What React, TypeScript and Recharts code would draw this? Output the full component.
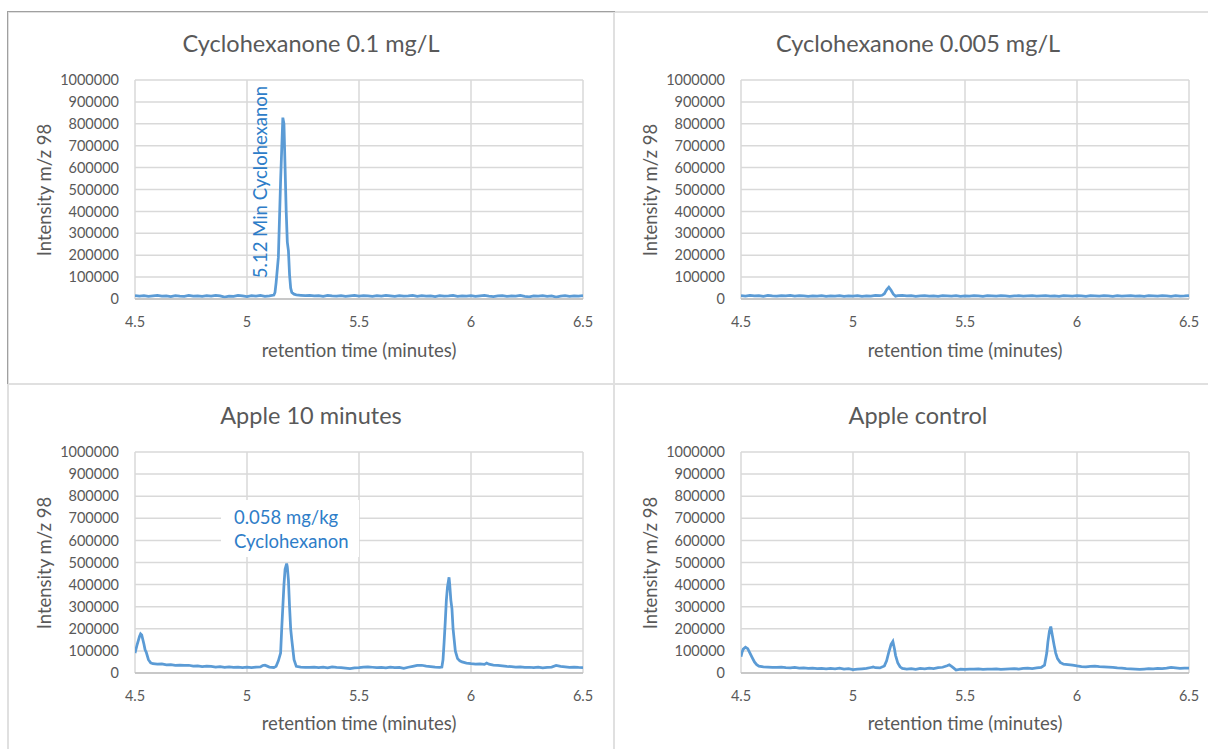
import { LineChart, Line, XAxis, YAxis, CartesianGrid } from 'recharts';

const FONT = 'Lato, "Open Sans", sans-serif';
const LINE = '#5B9BD5';
const TEXT = '#595959';
const NOTE = '#2E7DC8';
const GRID = '#d9d9d9';

const xTicks = [4.5, 5, 5.5, 6, 6.5];
const yTicks = [0, 100000, 200000, 300000, 400000, 500000, 600000, 700000, 800000, 900000, 1000000];

// Cyclohexanone 0.1 mg/L standard
const std100Time = [
  4.5, 4.52, 4.54, 4.56, 4.58, 4.6, 4.62, 4.64, 4.66, 4.68, 4.7, 4.72, 4.74, 4.76, 4.78, 4.8, 4.82, 4.84, 4.86, 4.88,
  4.9, 4.92, 4.94, 4.96, 4.98, 5.0, 5.02, 5.04, 5.06, 5.08, 5.1, 5.12, 5.125, 5.13, 5.14, 5.15, 5.16, 5.165, 5.17, 5.175,
  5.18, 5.185, 5.19, 5.195, 5.2, 5.21, 5.22, 5.24, 5.26, 5.28, 5.3, 5.32, 5.34, 5.36, 5.38, 5.4, 5.42, 5.44, 5.46, 5.48,
  5.5, 5.52, 5.54, 5.56, 5.58, 5.6, 5.62, 5.64, 5.66, 5.68, 5.7, 5.72, 5.74, 5.76, 5.78, 5.8, 5.82, 5.84, 5.86, 5.88,
  5.9, 5.92, 5.94, 5.96, 5.98, 6.0, 6.02, 6.04, 6.06, 6.08, 6.1, 6.12, 6.14, 6.16, 6.18, 6.2, 6.22, 6.24, 6.26, 6.28,
  6.3, 6.32, 6.34, 6.36, 6.38, 6.4, 6.42, 6.44, 6.46, 6.48, 6.5,
];
const std100Signal = [
  16000, 13000, 15000, 12000, 14000, 16000, 13000, 14000, 11000, 15000, 13000, 12000, 16000, 13000, 14000, 12000, 15000, 13000, 17000, 14000,
  9000, 13000, 12000, 16000, 14000, 11000, 15000, 13000, 16000, 12000, 14000, 18000, 30000, 75000, 190000, 540000, 828000, 800000, 600000, 400000,
  260000, 220000, 110000, 50000, 30000, 22000, 19000, 17000, 15000, 16000, 14000, 15000, 12000, 16000, 14000, 13000, 15000, 12000, 14000, 16000,
  13000, 15000, 14000, 12000, 15000, 13000, 16000, 14000, 12000, 15000, 13000, 14000, 16000, 12000, 15000, 13000, 14000, 11000, 15000, 13000,
  14000, 16000, 12000, 14000, 13000, 15000, 12000, 14000, 16000, 13000, 11000, 14000, 15000, 12000, 14000, 13000, 16000, 12000, 10000, 14000,
  13000, 15000, 12000, 14000, 9000, 13000, 15000, 12000, 14000, 13000, 15000,
];

// Cyclohexanone 0.005 mg/L standard
const std005Time = [
  4.5, 4.52, 4.54, 4.56, 4.58, 4.6, 4.62, 4.64, 4.66, 4.68, 4.7, 4.72, 4.74, 4.76, 4.78, 4.8, 4.82, 4.84, 4.86, 4.88,
  4.9, 4.92, 4.94, 4.96, 4.98, 5.0, 5.02, 5.04, 5.06, 5.08, 5.1, 5.12, 5.13, 5.14, 5.15, 5.16, 5.17, 5.18, 5.19, 5.2,
  5.22, 5.24, 5.26, 5.28, 5.3, 5.32, 5.34, 5.36, 5.38, 5.4, 5.42, 5.44, 5.46, 5.48, 5.5, 5.52, 5.54, 5.56, 5.58, 5.6,
  5.62, 5.64, 5.66, 5.68, 5.7, 5.72, 5.74, 5.76, 5.78, 5.8, 5.82, 5.84, 5.86, 5.88, 5.9, 5.92, 5.94, 5.96, 5.98, 6.0,
  6.02, 6.04, 6.06, 6.08, 6.1, 6.12, 6.14, 6.16, 6.18, 6.2, 6.22, 6.24, 6.26, 6.28, 6.3, 6.32, 6.34, 6.36, 6.38, 6.4,
  6.42, 6.44, 6.46, 6.48, 6.5,
];
const std005Signal = [
  15000, 13000, 16000, 14000, 15000, 12000, 16000, 14000, 13000, 15000, 14000, 16000, 13000, 15000, 14000, 12000, 14000, 13000, 15000, 12000,
  14000, 13000, 15000, 12000, 14000, 13000, 15000, 12000, 14000, 13000, 16000, 15000, 17000, 24000, 42000, 54000, 40000, 22000, 13000, 15000,
  16000, 14000, 15000, 12000, 14000, 15000, 13000, 14000, 12000, 15000, 14000, 13000, 15000, 12000, 14000, 13000, 15000, 14000, 12000, 15000,
  14000, 13000, 15000, 14000, 12000, 14000, 15000, 13000, 14000, 15000, 13000, 14000, 15000, 13000, 14000, 12000, 15000, 14000, 13000, 15000,
  14000, 12000, 15000, 14000, 13000, 15000, 14000, 12000, 15000, 13000, 14000, 15000, 13000, 14000, 12000, 15000, 14000, 13000, 15000, 14000,
  12000, 15000, 13000, 14000, 16000,
];

// Apple, 10 minutes
const apple10Time = [
  4.5, 4.51, 4.52, 4.525, 4.53, 4.54, 4.545, 4.55, 4.56, 4.57, 4.58, 4.6, 4.62, 4.64, 4.66, 4.68, 4.7, 4.72, 4.74, 4.76,
  4.78, 4.8, 4.82, 4.84, 4.86, 4.88, 4.9, 4.92, 4.94, 4.96, 4.98, 5.0, 5.02, 5.04, 5.06, 5.07, 5.08, 5.09, 5.1, 5.12,
  5.13, 5.14, 5.15, 5.155, 5.16, 5.165, 5.17, 5.177, 5.18, 5.185, 5.19, 5.195, 5.2, 5.21, 5.22, 5.24, 5.26, 5.28, 5.3, 5.32,
  5.34, 5.36, 5.38, 5.4, 5.42, 5.44, 5.46, 5.48, 5.5, 5.52, 5.54, 5.56, 5.58, 5.6, 5.62, 5.64, 5.66, 5.68, 5.7, 5.72,
  5.74, 5.76, 5.78, 5.8, 5.82, 5.84, 5.86, 5.87, 5.875, 5.88, 5.885, 5.89, 5.895, 5.902, 5.905, 5.91, 5.915, 5.92, 5.925, 5.93,
  5.94, 5.95, 5.96, 5.98, 6.0, 6.02, 6.04, 6.06, 6.07, 6.08, 6.1, 6.12, 6.14, 6.16, 6.18, 6.2, 6.22, 6.24, 6.26, 6.28,
  6.3, 6.32, 6.34, 6.36, 6.38, 6.4, 6.42, 6.44, 6.46, 6.48, 6.5,
];
const apple10Signal = [
  90000, 130000, 165000, 177000, 172000, 130000, 105000, 95000, 60000, 46000, 42000, 40000, 41000, 37000, 38000, 35000, 36000, 34000, 35000, 31000,
  32000, 29000, 31000, 30000, 27000, 29000, 26000, 28000, 25000, 27000, 24000, 26000, 24000, 27000, 28000, 34000, 35000, 31000, 27000, 25000,
  30000, 55000, 90000, 200000, 300000, 400000, 470000, 495000, 480000, 420000, 300000, 200000, 150000, 60000, 30000, 27000, 26000, 25000, 27000, 24000,
  26000, 23000, 28000, 25000, 24000, 22000, 20000, 23000, 24000, 27000, 28000, 26000, 24000, 25000, 23000, 26000, 24000, 25000, 21000, 26000,
  30000, 34000, 35000, 31000, 29000, 27000, 26000, 27000, 60000, 140000, 230000, 330000, 390000, 433000, 400000, 330000, 290000, 200000, 150000, 100000,
  65000, 55000, 50000, 45000, 42000, 40000, 41000, 39000, 45000, 40000, 36000, 34000, 32000, 30000, 29000, 27000, 28000, 25000, 26000, 24000,
  26000, 23000, 25000, 27000, 34000, 30000, 28000, 26000, 27000, 25000, 24000,
];

// Apple control
const appleCtrlTime = [
  4.5, 4.505, 4.51, 4.52, 4.53, 4.54, 4.55, 4.56, 4.57, 4.58, 4.6, 4.62, 4.64, 4.66, 4.68, 4.7, 4.72, 4.74, 4.76, 4.78,
  4.8, 4.82, 4.84, 4.86, 4.88, 4.9, 4.92, 4.94, 4.96, 4.98, 5.0, 5.02, 5.04, 5.06, 5.08, 5.09, 5.1, 5.12, 5.14, 5.15,
  5.16, 5.17, 5.178, 5.185, 5.19, 5.2, 5.21, 5.22, 5.24, 5.26, 5.28, 5.3, 5.32, 5.34, 5.36, 5.38, 5.4, 5.42, 5.43, 5.44,
  5.45, 5.46, 5.48, 5.5, 5.52, 5.54, 5.56, 5.58, 5.6, 5.62, 5.64, 5.66, 5.68, 5.7, 5.72, 5.74, 5.76, 5.78, 5.8, 5.82,
  5.84, 5.855, 5.865, 5.87, 5.877, 5.883, 5.89, 5.898, 5.905, 5.913, 5.925, 5.94, 5.96, 5.98, 6.0, 6.02, 6.04, 6.06, 6.08, 6.1,
  6.12, 6.14, 6.16, 6.18, 6.2, 6.22, 6.24, 6.26, 6.28, 6.3, 6.32, 6.34, 6.36, 6.38, 6.4, 6.42, 6.44, 6.46, 6.48, 6.5,
];
const appleCtrlSignal = [
  74000, 95000, 108000, 117000, 110000, 90000, 70000, 50000, 38000, 31000, 28000, 27000, 26000, 25000, 27000, 24000, 23000, 25000, 22000, 23000,
  21000, 22000, 20000, 21000, 19000, 21000, 19000, 22000, 18000, 20000, 15000, 17000, 19000, 21000, 25000, 27000, 24000, 23000, 32000, 55000,
  95000, 130000, 143000, 110000, 80000, 45000, 28000, 21000, 18000, 20000, 17000, 21000, 19000, 22000, 20000, 24000, 26000, 33000, 37000, 30000,
  22000, 13000, 17000, 16000, 18000, 17000, 19000, 16000, 18000, 17000, 19000, 16000, 18000, 19000, 20000, 18000, 21000, 22000, 20000, 23000,
  25000, 35000, 90000, 140000, 190000, 210000, 170000, 125000, 90000, 65000, 48000, 40000, 38000, 36000, 32000, 29000, 28000, 30000, 31000, 29000,
  28000, 27000, 25000, 23000, 22000, 20000, 19000, 18000, 16000, 18000, 20000, 19000, 21000, 20000, 22000, 25000, 23000, 21000, 22000, 22000,
];

interface PanelSpec {
  title: string;
  times: number[];
  values: number[];
  box: [number, number, number, number]; // left, top, width, height
  plot: [number, number, number, number]; // left, top, right, bottom
  titleX: number;
  titleY: number;
  yLabelX: number;
  xLabelY: number;
}

const panels: PanelSpec[] = [
  { title: 'Cyclohexanone 0.1 mg/L', times: std100Time, values: std100Signal, box: [8, 11, 606, 373], plot: [135, 80, 583, 299], titleX: 311, titleY: 43, yLabelX: 44, xLabelY: 350 },
  { title: 'Cyclohexanone 0.005 mg/L', times: std005Time, values: std005Signal, box: [614, 11, 594, 373], plot: [741, 80, 1189, 299], titleX: 918, titleY: 43, yLabelX: 650, xLabelY: 350 },
  { title: 'Apple 10 minutes', times: apple10Time, values: apple10Signal, box: [8, 384, 606, 365], plot: [135, 452, 583, 673], titleX: 311, titleY: 415, yLabelX: 44, xLabelY: 723 },
  { title: 'Apple control', times: appleCtrlTime, values: appleCtrlSignal, box: [614, 384, 594, 365], plot: [741, 452, 1189, 673], titleX: 918, titleY: 415, yLabelX: 650, xLabelY: 723 },
];

function Centered({ x, y, size, color = TEXT, rotate = false, children }: { x: number; y: number; size: number; color?: string; rotate?: boolean; children: any }) {
  return (
    <div
      style={{
        position: 'absolute', left: x - 300, top: y - 20, width: 600, height: 40,
        lineHeight: '40px', textAlign: 'center', fontSize: size, color, whiteSpace: 'nowrap',
        transform: rotate ? 'rotate(-90deg)' : undefined,
      }}
    >
      {children}
    </div>
  );
}

function Panel({ p }: { p: PanelSpec }) {
  const data = p.times.map((t, i) => ({ t, v: p.values[i] }));
  const [bx, by, bw, bh] = p.box;
  const [px0, py0, px1, py1] = p.plot;
  const tick = { fill: TEXT, fontSize: 14.5, fontFamily: FONT };
  return (
    <>
      <div style={{ position: 'absolute', left: bx, top: by }}>
        <LineChart width={bw} height={bh} data={data} margin={{ top: py0 - by, right: bx + bw - px1, bottom: 0, left: 0 }}>
          <CartesianGrid stroke={GRID} strokeWidth={1.5} />
          <XAxis
            dataKey="t" type="number" domain={[4.5, 6.5]} ticks={xTicks} interval={0} allowDataOverflow
            height={by + bh - py1} tickLine={false} tickSize={0} tickMargin={18}
            axisLine={{ stroke: '#bfbfbf', strokeWidth: 1.5 }} tick={tick}
          />
          <YAxis
            type="number" domain={[0, 1000000]} ticks={yTicks} interval={0} allowDataOverflow
            width={px0 - bx} tickLine={false} tickSize={0} tickMargin={16} axisLine={false} tick={tick}
          />
          <Line dataKey="v" type="linear" stroke={LINE} strokeWidth={2.75} dot={false} isAnimationActive={false} />
        </LineChart>
      </div>
      <Centered x={p.titleX} y={p.titleY} size={23.5}>{p.title}</Centered>
      <Centered x={(px0 + px1) / 2} y={p.xLabelY} size={18.5}>retention time (minutes)</Centered>
      <Centered x={p.yLabelX} y={(py0 + py1) / 2} size={18.5} rotate>Intensity m/z 98</Centered>
    </>
  );
}

export default function App() {
  return (
    <div style={{ position: 'absolute', left: 0, top: 0, width: 1208, height: 749, background: '#fff', fontFamily: FONT, overflow: 'hidden' }}>
      {/* panel frames */}
      <div style={{ position: 'absolute', left: 8, top: 11, width: 1200, height: 0, borderTop: '2px solid #e0e0e0' }} />
      <div style={{ position: 'absolute', left: 7, top: 11, width: 0, height: 738, borderLeft: '2px solid #e0e0e0' }} />
      <div style={{ position: 'absolute', left: 7, top: 383, width: 1201, height: 0, borderTop: '2px solid #e0e0e0' }} />
      <div style={{ position: 'absolute', left: 613, top: 11, width: 0, height: 738, borderLeft: '2px solid #e0e0e0' }} />
      <div style={{ position: 'absolute', left: 7, top: 11, width: 607, height: 372, borderTop: '1.5px solid #a0a0a0', borderLeft: '1.5px solid #a0a0a0' }} />

      {panels.map((p) => <Panel key={p.title} p={p} />)}

      {/* peak annotations */}
      <Centered x={260} y={182} size={18.5} color={NOTE} rotate>5.12 Min Cyclohexanon</Centered>
      <div
        style={{
          position: 'absolute', left: 221, top: 500, width: 138, height: 57, background: '#fff',
          color: NOTE, fontSize: 18.5, lineHeight: '24px', paddingLeft: 13, paddingTop: 5, boxSizing: 'border-box', whiteSpace: 'nowrap',
        }}
      >
        0.058 mg/kg<br />Cyclohexanon
      </div>
    </div>
  );
}
